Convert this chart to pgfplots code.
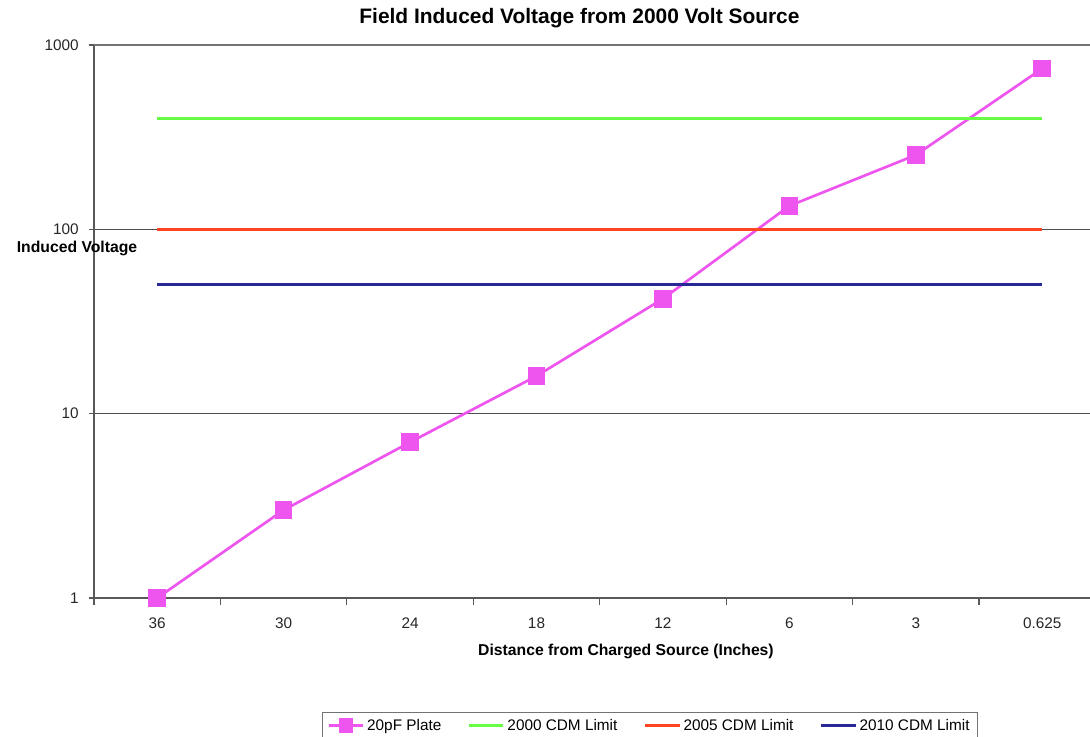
\documentclass[border=0pt]{standalone}
\usepackage{fontspec}
\setmainfont{Liberation Sans}
\usepackage{pgfplots}
\pgfplotsset{compat=1.18}
\definecolor{plate}{RGB}{238,85,238}
\definecolor{limA}{RGB}{102,255,68}
\definecolor{limB}{RGB}{255,68,34}
\definecolor{limC}{RGB}{40,40,150}
\begin{document}
\begin{tikzpicture}
\useasboundingbox (0,0) rectangle (817.5pt,552.75pt);
\begin{axis}[
  at={(70.5pt,104.25pt)}, anchor=south west,
  scale only axis, width=747pt, height=414.75pt,
  xmin=-0.5, xmax=7.378,
  ymode=log, ymin=1, ymax=1000,
  axis lines=left, axis line style={-, draw=black!65, line width=1.1pt},
  /pgf/number format/assume math mode=true,
  tick label style={font=\fontsize{11.5}{13}\selectfont},
  xtick={0,...,7},
  xticklabels={36,30,24,18,12,6,3,0.625},
  minor xtick={-0.5,0.5,...,6.5},
  major x tick style={draw=none},
  minor x tick style={draw=black!65, line width=0.8pt},
  tick align=outside,
  minor tick length=5pt,
  major tick length=4pt,
  ytick={1,10,100,1000},
  yticklabels={1,10,100,1000},
  yminorticks=false,
  y tick style={draw=black!65, line width=0.8pt},
  ymajorgrids,
  grid style={draw=black!70, line width=0.6pt},
  extra y ticks={1000}, extra y tick labels={},
  extra y tick style={grid style={draw=black!55, line width=1.5pt}},
  xticklabel style={yshift=-7pt, text=black!85},
  yticklabel style={xshift=-4pt, text=black!85},
  clip=false,
  legend columns=4,
  legend style={at={(axis description cs:0.2289,-0.206)}, anchor=north west,
    draw=black!55, line width=0.6pt, font=\fontsize{11.5}{13}\selectfont,
    inner xsep=4pt, inner ysep=3pt,
    /tikz/every even column/.append style={column sep=18pt}},
  legend image code/.code={\draw[mark repeat=2,mark phase=2,mark size=5pt] plot coordinates {(0cm,0cm) (0.45cm,0cm) (0.9cm,0cm)};},
]
\addplot[color=plate, line width=2pt, mark=square*, mark size=6.2pt, mark options={solid, fill=plate, line width=0pt}]
  coordinates {(0,1) (1,3) (2,7) (3,16) (4,42) (5,134) (6,253) (7,745)};
\addlegendentry{20pF Plate}
\addplot[color=limA, line width=2pt, no marks] coordinates {(0,400) (7,400)};
\addlegendentry{2000 CDM Limit}
\addplot[color=limB, line width=2pt, no marks] coordinates {(0,100) (7,100)};
\addlegendentry{2005 CDM Limit}
\addplot[color=limC, line width=2pt, no marks] coordinates {(0,50) (7,50)};
\addlegendentry{2010 CDM Limit}
\end{axis}
\node[font=\bfseries\fontsize{15.7}{18}\selectfont] at (434.6pt,539.25pt) {Field Induced Voltage from 2000 Volt Source};
\node[font=\bfseries\fontsize{11.8}{14}\selectfont] at (469.5pt,64.5pt) {Distance from Charged Source (Inches)};
\node[font=\bfseries\fontsize{11.8}{14}\selectfont] at (57.75pt,366.75pt) {Induced Voltage};
\end{tikzpicture}
\end{document}
